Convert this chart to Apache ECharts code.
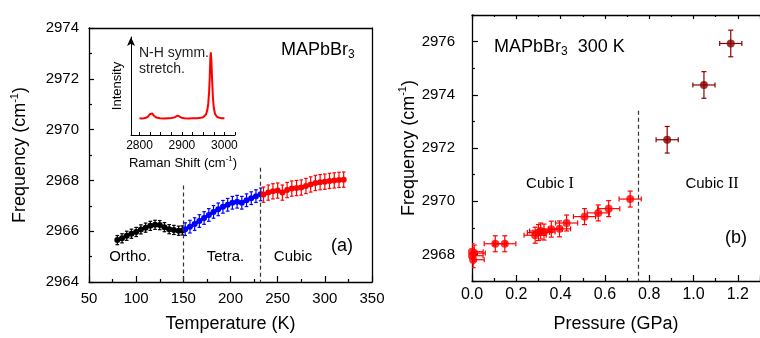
<!DOCTYPE html>
<html>
<head>
<meta charset="utf-8">
<script src="https://cdn.jsdelivr.net/npm/echarts@6/dist/echarts.min.js"></script>
<style>html,body{margin:0;padding:0;background:#fff}#c{width:760px;height:338px}</style>
</head>
<body>
<div id="c"></div>
<script>
// ---------- Panel (a): temperature dependence ----------
const tempOrtho = [80,85,90,95,100,105,110,115,120,125,130,135,140,145,149];
const freqOrtho = [2965.65,2965.72,2965.82,2965.90,2965.97,2966.07,2966.14,2966.21,2966.25,2966.24,2966.16,2966.08,2966.05,2966.02,2966.03];
const tempTetra = [152,157,162,167,172,177,182,187,192,197,202,207,212,217,222,227,232];
const freqTetra = [2966.08,2966.18,2966.28,2966.40,2966.52,2966.64,2966.76,2966.86,2966.96,2967.04,2967.12,2967.16,2967.12,2967.22,2967.30,2967.38,2967.45];
const tempCubic = [235,240,245,250,255,260,265,270,275,280,285,290,295,300,305,310,315,320];
const freqCubic = [2967.44,2967.52,2967.57,2967.60,2967.52,2967.62,2967.68,2967.70,2967.72,2967.78,2967.84,2967.90,2967.93,2967.95,2967.98,2968.00,2968.02,2968.03];
const errOrtho = 0.18, errTetra = 0.25, errCubic = 0.3;
const phaseBoundaries = [150, 232];

// ---------- Inset: Raman spectrum ----------
const ramanShift = [2800,2805,2810,2815,2820,2824,2827,2830,2834,2840,2848,2858,2868,2876,2882,2886,2890,2894,2899,2906,2916,2926,2936,2944,2950,2954,2957,2960,2962,2964,2965.5,2967,2968,2969.5,2971,2973,2975,2978,2982,2988,2994,3000];
const ramanIntensity = [0.170,0.168,0.171,0.175,0.188,0.212,0.228,0.220,0.196,0.178,0.171,0.168,0.171,0.173,0.180,0.192,0.197,0.188,0.177,0.171,0.169,0.171,0.172,0.175,0.181,0.192,0.212,0.26,0.32,0.44,0.59,0.79,0.844,0.75,0.57,0.38,0.28,0.215,0.188,0.175,0.171,0.170];
const ramanTicks = [2800,2825,2850,2875,2900,2925,2950,2975,3000,3025];
const ramanLabels = [2800,2900,3000];

// ---------- Panel (b): pressure dependence ----------
const pressCubic1 = [0.0,0.0,0.005,0.01,0.105,0.148,0.285,0.30,0.31,0.325,0.358,0.395,0.427,0.508,0.57,0.617,0.714];
const freqCubic1 = [2968.1,2967.95,2967.8,2968.05,2968.40,2968.40,2968.72,2968.82,2968.88,2968.84,2968.95,2968.96,2969.18,2969.42,2969.56,2969.72,2970.08];
const pressCubic2 = [0.881,1.047,1.168];
const freqCubic2 = [2972.31,2974.37,2975.93];
const errP = 0.05, errFreq1 = 0.3, errFreq2 = 0.5;
const pressureBoundary = 0.75;
const freqMajorB = [2968,2970,2972,2974,2976];
const freqMinorB = [2967,2969,2971,2973,2975,2977];

const FONT = "'Liberation Sans', Arial, Helvetica, sans-serif";
const chart = echarts.init(document.getElementById('c'), null, {renderer:'canvas'});

function pairs(xs, ys){ return xs.map((x,i)=>[x, ys[i]]); }
const plain = v => String(v);

function errBars(xs, ys, ex, ey, color, xi, yi, cap){
  return {
    type:'custom', xAxisIndex:xi, yAxisIndex:yi, clip:true, z:2, silent:true,
    data: pairs(xs, ys),
    renderItem: function(params, api){
      const x = api.value(0), y = api.value(1);
      const st = {stroke: color, lineWidth: 1.2};
      const ch = [];
      const a = api.coord([x, y-ey]), b = api.coord([x, y+ey]);
      ch.push({type:'line', shape:{x1:a[0],y1:a[1],x2:b[0],y2:b[1]}, style:st});
      ch.push({type:'line', shape:{x1:a[0]-cap,y1:a[1],x2:a[0]+cap,y2:a[1]}, style:st});
      ch.push({type:'line', shape:{x1:b[0]-cap,y1:b[1],x2:b[0]+cap,y2:b[1]}, style:st});
      if (ex){
        const c = api.coord([x-ex, y]), d = api.coord([x+ex, y]);
        ch.push({type:'line', shape:{x1:c[0],y1:c[1],x2:d[0],y2:d[1]}, style:st});
        ch.push({type:'line', shape:{x1:c[0],y1:c[1]-cap,x2:c[0],y2:c[1]+cap}, style:st});
        ch.push({type:'line', shape:{x1:d[0],y1:d[1]-cap,x2:d[0],y2:d[1]+cap}, style:st});
      }
      return {type:'group', children:ch};
    }
  };
}

const freqNameText = '{a|Frequency (cm}{s|-1}{a|)}';
const freqNameRich = {a:{fontSize:18, lineHeight:22, fontFamily:FONT, color:'#000'}, s:{fontSize:11, lineHeight:12, verticalAlign:'top', fontFamily:FONT, color:'#000'}};

const lineAx = {lineStyle:{color:'#000', width:1.3}};
const tk = {color:'#000', width:1.2};
const dash = {color:'#333', width:1.2, type:[4,3]};

const option = {
  animation:false,
  textStyle:{fontFamily:FONT, color:'#000'},
  grid:[
    {left:89, top:28, width:283, height:257},
    {left:131, top:37, width:104, height:98},
    {left:472, top:15, width:296, height:269}
  ],
  xAxis:[
    {gridIndex:0, type:'value', min:50, max:350, interval:50, position:'bottom',
     axisLine:lineAx, splitLine:{show:false},
     axisTick:{inside:true, length:6, lineStyle:tk},
     minorTick:{show:true, splitNumber:2, length:3, lineStyle:tk},
     axisLabel:{fontSize:15, margin:9, color:'#000', formatter:plain},
     name:'Temperature (K)', nameLocation:'middle', nameGap:33, nameTextStyle:{fontSize:18, color:'#000'}},
    {gridIndex:0, type:'value', min:50, max:350, position:'top', axisLine:lineAx,
     axisTick:{show:false}, axisLabel:{show:false}, splitLine:{show:false}},
    {gridIndex:1, type:'value', min:2780, max:3025, position:'bottom',
     axisLine:{lineStyle:{color:'#000', width:1}}, splitLine:{show:false},
     axisTick:{inside:true, length:3, lineStyle:{color:'#000'}, customValues:ramanTicks},
     axisLabel:{fontSize:12, margin:5, color:'#000', customValues:ramanLabels, formatter:plain},
     name:'{a|Raman Shift (cm}{s|-1}{a|)}', nameLocation:'middle', nameGap:20,
     nameTextStyle:{rich:{a:{fontSize:13, lineHeight:16, color:'#000'}, s:{fontSize:8, lineHeight:9, verticalAlign:'top', color:'#000'}}}},
    {gridIndex:2, type:'value', min:0, max:1.3, interval:0.2, position:'bottom',
     axisLine:lineAx, splitLine:{show:false},
     axisTick:{inside:true, length:6, lineStyle:tk},
     minorTick:{show:true, splitNumber:2, length:3, lineStyle:tk},
     axisLabel:{fontSize:16, margin:6, color:'#000', showMaxLabel:false, formatter:v=>v.toFixed(1)},
     name:'Pressure (GPa)', nameLocation:'middle', nameGap:34, nameTextStyle:{fontSize:18, color:'#000'}},
    {gridIndex:2, type:'value', min:0, max:1.3, interval:0.2, position:'top',
     axisLine:lineAx, splitLine:{show:false},
     axisTick:{inside:true, length:4, lineStyle:tk},
     minorTick:{show:true, splitNumber:2, length:2, lineStyle:tk},
     axisLabel:{show:false}}
  ],
  yAxis:[
    {gridIndex:0, type:'value', min:2964, max:2974, interval:2, position:'left',
     axisLine:lineAx, splitLine:{show:false},
     axisTick:{inside:true, length:5, lineStyle:tk},
     minorTick:{show:true, splitNumber:2, length:3, lineStyle:tk},
     axisLabel:{fontSize:15, margin:10, color:'#000', formatter:plain},
     name:freqNameText, nameLocation:'middle', nameGap:58, nameTextStyle:{rich:freqNameRich}},
    {gridIndex:0, type:'value', min:2964, max:2974, position:'right', axisLine:lineAx,
     axisTick:{show:false}, axisLabel:{show:false}, splitLine:{show:false}},
    {gridIndex:1, type:'value', min:0, max:1, position:'left',
     axisLine:{lineStyle:{color:'#000', width:1}, symbol:['none','arrow'], symbolSize:[6,9]},
     axisTick:{show:false}, axisLabel:{show:false}, splitLine:{show:false},
     name:'Intensity', nameLocation:'middle', nameGap:7, nameTextStyle:{fontSize:13, color:'#000'}},
    {gridIndex:2, type:'value', min:2967, max:2977, position:'left',
     axisLine:lineAx, splitLine:{show:false},
     axisTick:{inside:true, length:6, lineStyle:tk, customValues:freqMajorB},
     axisLabel:{fontSize:15, margin:17, color:'#000', customValues:freqMajorB, formatter:plain},
     name:freqNameText, nameLocation:'middle', nameGap:52, nameTextStyle:{rich:freqNameRich}},
    {gridIndex:2, type:'value', min:2967, max:2977, position:'left',
     axisLine:{show:false}, splitLine:{show:false},
     axisTick:{inside:true, length:3, lineStyle:tk, customValues:freqMinorB},
     axisLabel:{show:false}}
  ],
  series:[
    errBars(tempOrtho, freqOrtho, 0, errOrtho, '#000', 0, 0, 1.8),
    errBars(tempTetra, freqTetra, 0, errTetra, '#0000ff', 0, 0, 1.8),
    errBars(tempCubic, freqCubic, 0, errCubic, '#ff0000', 0, 0, 1.8),
    {type:'line', xAxisIndex:0, yAxisIndex:0, data:pairs(tempOrtho,freqOrtho), symbol:'circle', symbolSize:6,
     itemStyle:{color:'#000'}, lineStyle:{color:'#000', width:3}, z:3,
     markLine:{silent:true, symbol:'none', label:{show:false}, lineStyle:dash,
       data:[[{coord:[phaseBoundaries[0],2967.8]},{coord:[phaseBoundaries[0],2964]}],
             [{coord:[phaseBoundaries[1],2968.5]},{coord:[phaseBoundaries[1],2964]}]]}},
    {type:'line', xAxisIndex:0, yAxisIndex:0, data:pairs(tempTetra,freqTetra), symbol:'circle', symbolSize:6,
     itemStyle:{color:'#0000ff'}, lineStyle:{color:'#0000ff', width:3}, z:3},
    {type:'line', xAxisIndex:0, yAxisIndex:0, data:pairs(tempCubic,freqCubic), symbol:'circle', symbolSize:6,
     itemStyle:{color:'#ff0000'}, lineStyle:{color:'#ff0000', width:3}, z:3},
    {type:'line', xAxisIndex:2, yAxisIndex:2, data:pairs(ramanShift, ramanIntensity), showSymbol:false,
     lineStyle:{color:'#ff0000', width:2}, z:3},
    errBars(pressCubic1, freqCubic1, errP, errFreq1, '#ff0000', 3, 3, 2.5),
    errBars(pressCubic2, freqCubic2, errP, errFreq2, '#8b0000', 3, 3, 2.5),
    {type:'scatter', xAxisIndex:3, yAxisIndex:3, data:pairs(pressCubic1,freqCubic1), symbol:'circle', symbolSize:8,
     itemStyle:{color:'#ff0000'}, z:3, clip:true,
     markLine:{silent:true, symbol:'none', label:{show:false}, lineStyle:dash,
       data:[[{coord:[pressureBoundary,2973.4]},{coord:[pressureBoundary,2967]}]]}},
    {type:'scatter', xAxisIndex:3, yAxisIndex:3, data:pairs(pressCubic2,freqCubic2), symbol:'circle', symbolSize:8,
     itemStyle:{color:'#8b0000'}, z:3}
  ],
  graphic:[
    {type:'text', left:281, top:41, style:{text:'{a|MAPbBr}{s|3}', rich:{a:{fontSize:18, lineHeight:22, fontFamily:FONT, fill:'#000'}, s:{fontSize:12, lineHeight:12, verticalAlign:'bottom', fontFamily:FONT, fill:'#000'}}}},
    {type:'text', left:139, top:46, style:{text:'N-H symm.', fontSize:14, fontFamily:FONT, fill:'#222'}},
    {type:'text', left:139, top:62, style:{text:'stretch.', fontSize:14, fontFamily:FONT, fill:'#222'}},
    {type:'text', x:130, y:257, style:{text:'Ortho.', fontSize:15, fontFamily:FONT, fill:'#000', align:'center', verticalAlign:'middle'}},
    {type:'text', x:225.5, y:257, style:{text:'Tetra.', fontSize:15, fontFamily:FONT, fill:'#000', align:'center', verticalAlign:'middle'}},
    {type:'text', x:293, y:257, style:{text:'Cubic', fontSize:15, fontFamily:FONT, fill:'#000', align:'center', verticalAlign:'middle'}},
    {type:'text', x:342, y:246, style:{text:'(a)', fontSize:18, fontFamily:FONT, fill:'#000', align:'center', verticalAlign:'middle'}},
    {type:'text', left:494, top:38, style:{text:'{a|MAPbBr}{s|3}{a|  300 K}', rich:{a:{fontSize:18, lineHeight:22, fontFamily:FONT, fill:'#000'}, s:{fontSize:12, lineHeight:12, verticalAlign:'bottom', fontFamily:FONT, fill:'#000'}}}},
    {type:'text', x:550, y:184, style:{text:'{a|Cubic }{r|I}', rich:{a:{fontSize:15, fontFamily:FONT, fill:'#000'}, r:{fontSize:16, fontFamily:"'Liberation Serif', serif", fill:'#000'}}, align:'center', verticalAlign:'middle'}},
    {type:'text', x:712, y:184, style:{text:'{a|Cubic }{r|II}', rich:{a:{fontSize:15, fontFamily:FONT, fill:'#000'}, r:{fontSize:16, fontFamily:"'Liberation Serif', serif", fill:'#000'}}, align:'center', verticalAlign:'middle'}},
    {type:'text', x:736, y:238, style:{text:'(b)', fontSize:18, fontFamily:FONT, fill:'#000', align:'center', verticalAlign:'middle'}}
  ]
};
chart.setOption(option);
</script>
</body>
</html>
